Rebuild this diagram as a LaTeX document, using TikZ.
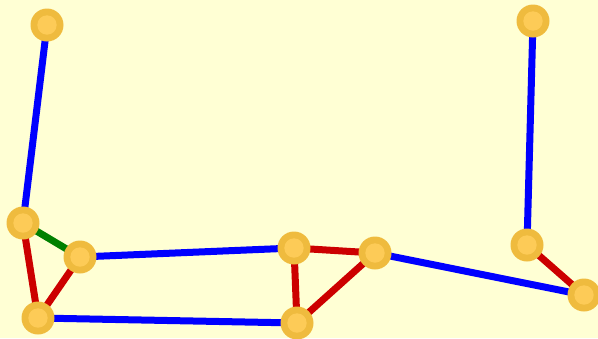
\documentclass[tikz,border=0pt]{standalone}
\usetikzlibrary{backgrounds}
\definecolor{bgyellow}{HTML}{FFFFD4}
\definecolor{ringgold}{HTML}{EFBB3E}
\definecolor{coregold}{HTML}{FDCB57}
\definecolor{linkblue}{HTML}{0000FF}
\definecolor{linkred}{HTML}{CC0000}
\definecolor{linkgreen}{HTML}{008000}
\tikzset{
  vertex/.style={circle, fill=ringgold, minimum size=33pt, inner sep=0pt,
    path picture={\fill[coregold] (path picture bounding box.center) circle (9.7pt);}},
  link/.style={line width=7pt},
  bluelink/.style={link, draw=linkblue},
  redlink/.style={link, draw=linkred},
  greenlink/.style={link, draw=linkgreen}
}
\begin{document}
\begin{tikzpicture}[x=1pt, y=-1pt]
  \useasboundingbox (0,0) rectangle (598,338);

  % vertices
  \node[vertex] (a) at (47,25) {};
  \node[vertex] (b) at (23,223) {};
  \node[vertex] (c) at (80,257) {};
  \node[vertex] (d) at (38,318) {};
  \node[vertex] (e) at (294,248) {};
  \node[vertex] (f) at (375,253) {};
  \node[vertex] (g) at (297,323) {};
  \node[vertex] (h) at (533,21) {};
  \node[vertex] (i) at (527,245) {};
  \node[vertex] (j) at (584,295) {};

  % background and links, drawn beneath the vertices
  \begin{pgfonlayer}{background}
    \fill[bgyellow] (0,0) rectangle (598,338);
    \draw[bluelink] (a.center) -- (b.center);
    \draw[greenlink] (b.center) -- (c.center);
    \draw[redlink] (b.center) -- (d.center);
    \draw[redlink] (c.center) -- (d.center);
    \draw[bluelink] (c.center) -- (e.center);
    \draw[bluelink] (d.center) -- (g.center);
    \draw[redlink] (e.center) -- (f.center);
    \draw[redlink] (e.center) -- (g.center);
    \draw[redlink] (f.center) -- (g.center);
    \draw[bluelink] (f.center) -- (j.center);
    \draw[bluelink] (h.center) -- (i.center);
    \draw[redlink] (i.center) -- (j.center);
  \end{pgfonlayer}
\end{tikzpicture}
\end{document}
